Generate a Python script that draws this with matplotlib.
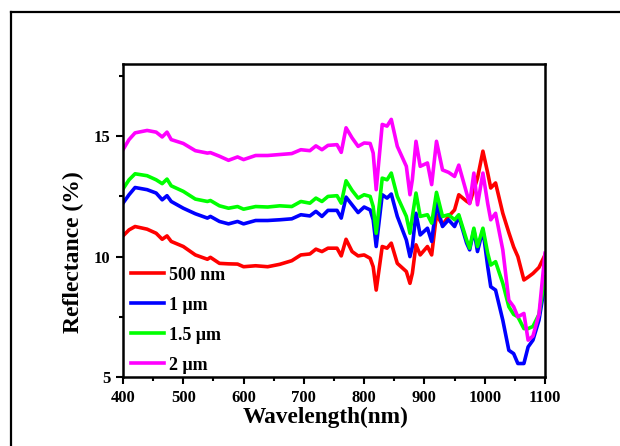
import matplotlib
matplotlib.use("Agg")
import matplotlib.pyplot as plt
from matplotlib.lines import Line2D
from matplotlib.ticker import MultipleLocator

plt.rcParams['font.family'] = ['Liberation Serif', 'DejaVu Serif']
plt.rcParams['font.weight'] = 'bold'

# wavelength grid (nm)
wl = [400, 410, 420, 440, 455, 465, 473, 480, 500, 520, 540, 545, 560, 575, 590,
      600, 620, 640, 660, 680, 695, 710, 720, 730, 740, 755, 762, 770, 780, 790,
      800, 810, 815, 820, 830, 838, 845, 855, 870, 876, 880, 886, 893, 905, 912,
      920, 930, 940, 950, 957, 970, 975, 982, 988, 997, 1005, 1010, 1018, 1030,
      1040, 1048, 1055, 1065, 1072, 1080, 1090, 1100]

r_500nm = [10.86, 11.11, 11.25, 11.14, 10.97, 10.72, 10.86, 10.63, 10.42, 10.07,
           9.89, 9.97, 9.72, 9.70, 9.69, 9.58, 9.62, 9.58, 9.68, 9.83, 10.07,
           10.11, 10.31, 10.21, 10.35, 10.35, 10.03, 10.72, 10.21, 10.03, 10.07,
           9.93, 9.58, 8.61, 10.42, 10.35, 10.56, 9.72, 9.38, 8.89, 9.31, 10.49,
           10.07, 10.42, 10.07, 11.74, 11.32, 11.67, 11.94, 12.57, 12.30, 12.22,
           12.78, 13.26, 14.38, 13.47, 12.85, 13.06, 11.80, 11.00, 10.40, 10.00,
           9.03, 9.15, 9.30, 9.55, 10.07]

r_1um = [12.22, 12.57, 12.87, 12.78, 12.64, 12.36, 12.53, 12.29, 12.01, 11.78,
         11.60, 11.67, 11.46, 11.36, 11.46, 11.36, 11.50, 11.50, 11.53, 11.57,
         11.74, 11.69, 11.88, 11.67, 11.92, 11.92, 11.60, 12.47, 12.15, 11.83,
         12.06, 11.94, 11.53, 10.42, 12.57, 12.43, 12.60, 11.67, 10.69, 10.00,
         10.42, 11.80, 10.90, 11.18, 10.63, 12.22, 11.25, 11.53, 11.25, 11.67,
         10.56, 10.28, 11.11, 10.21, 11.11, 9.58, 8.75, 8.61, 7.36, 6.11, 5.97,
         5.56, 5.56, 6.25, 6.53, 7.36, 8.90]

r_15um = [12.81, 13.19, 13.44, 13.36, 13.19, 13.03, 13.22, 12.94, 12.71, 12.39,
          12.29, 12.33, 12.11, 12.01, 12.08, 11.97, 12.08, 12.06, 12.11, 12.08,
          12.29, 12.22, 12.43, 12.29, 12.50, 12.53, 12.22, 13.15, 12.75, 12.43,
          12.57, 12.50, 12.08, 10.97, 13.26, 13.19, 13.47, 12.50, 11.67, 10.97,
          11.67, 12.64, 11.67, 11.74, 11.39, 12.67, 11.67, 11.74, 11.53, 11.74,
          10.69, 10.35, 11.18, 10.42, 11.18, 10.14, 9.65, 9.79, 8.89, 7.92, 7.60,
          7.50, 7.01, 7.01, 7.10, 7.60, 9.17]

r_2um = [14.44, 14.86, 15.14, 15.24, 15.17, 14.97, 15.17, 14.86, 14.70, 14.40,
         14.30, 14.32, 14.17, 14.00, 14.14, 14.03, 14.20, 14.20, 14.24, 14.28,
         14.44, 14.40, 14.60, 14.44, 14.62, 14.65, 14.33, 15.35, 14.93, 14.58,
         14.72, 14.70, 14.30, 12.78, 15.49, 15.42, 15.70, 14.58, 13.75, 12.57,
         13.20, 14.79, 13.75, 13.89, 12.99, 14.79, 13.60, 13.50, 13.33, 13.80,
         12.64, 12.20, 13.47, 12.15, 13.47, 12.20, 11.53, 11.80, 10.28, 8.19,
         7.92, 7.50, 7.64, 6.53, 6.70, 7.60, 10.14]

labels = ['500 nm', '1 \u03bcm', '1.5 \u03bcm', '2 \u03bcm']
colors = ['#ff0000', '#0000ff', '#00ff00', '#ff00ff']

fig = plt.figure(figsize=(6.2, 4.46), dpi=100)
ax = fig.add_axes([123 / 620, 1 - 377 / 446, 422 / 620, 313 / 446])

for ys, lab, c in zip([r_500nm, r_1um, r_15um, r_2um], labels, colors):
    ax.plot(wl, ys, color=c, lw=2.6, label=lab)

ax.set_xlim(400, 1100)
ax.set_ylim(5, 18)
ax.xaxis.set_major_locator(MultipleLocator(100))
ax.xaxis.set_minor_locator(MultipleLocator(50))
ax.yaxis.set_major_locator(MultipleLocator(5))
ax.yaxis.set_minor_locator(MultipleLocator(2.5))
ax.tick_params(which='both', direction='out', width=1.5, labelsize=12)
ax.tick_params(which='major', length=5, pad=4)
ax.tick_params(which='minor', length=3)
for s in ax.spines.values():
    s.set_linewidth(1.8)

ax.set_xlabel('Wavelength(nm)', fontsize=16.8, fontweight='bold')
ax.set_ylabel('Reflectance (%)', fontsize=17, fontweight='bold')
ax.xaxis.set_label_coords(0.479, -0.095)
ax.yaxis.set_label_coords(-0.092, 0.40)

ax.legend(loc='lower left', bbox_to_anchor=(-0.012, -0.03), frameon=False,
          fontsize=13, handlelength=1.85, handletextpad=0.3, labelspacing=0.72,
          borderaxespad=0.3)

# outer frame of the figure panel
x0, y0 = 11 / 620, 1 - 12 / 446
fig.add_artist(Line2D([x0, x0], [0, y0], transform=fig.transFigure, color='black', lw=1.6))
fig.add_artist(Line2D([x0, 1], [y0, y0], transform=fig.transFigure, color='black', lw=1.6))

fig.savefig('out.png', dpi=100)
